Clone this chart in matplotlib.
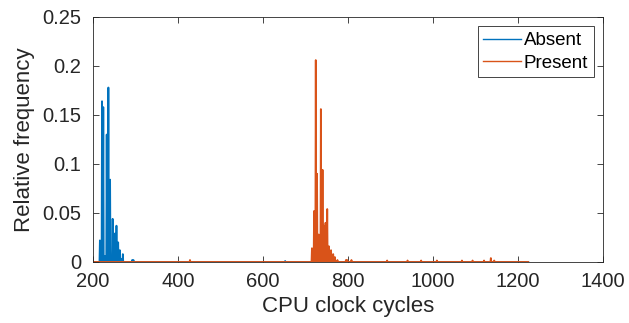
import numpy as np
import matplotlib
matplotlib.use('Agg')
import matplotlib.pyplot as plt

plt.rcParams['font.family'] = ['Liberation Sans', 'DejaVu Sans']

# cycle counts with a non zero frequency (everything else is zero)
absent_cycles = [216, 221, 224, 228, 232, 236, 240, 243, 246, 251, 255, 259, 263, 267, 270, 292, 295, 652]
absent_freq = [0.022, 0.164, 0.158, 0.006, 0.130, 0.178, 0.084, 0.003, 0.044, 0.029, 0.037, 0.020,
               0.012, 0.003, 0.008, 0.002, 0.002, 0.001]

present_cycles = [428, 715, 720, 724, 727, 731, 736, 740, 743, 747, 751, 755, 760, 765, 769, 775,
                  795, 798, 808, 892, 940, 972, 1009, 1068, 1093, 1120, 1136, 1144]
present_freq = [0.002, 0.014, 0.052, 0.206, 0.090, 0.028, 0.156, 0.094, 0.037, 0.040, 0.054, 0.016,
                0.012, 0.008, 0.005, 0.002, 0.002, 0.002, 0.002, 0.0015, 0.0015, 0.0015, 0.0015,
                0.0015, 0.0015, 0.0015, 0.004, 0.0015]

cycle_min, cycle_max = 200, 1224
labels = ['Absent', 'Present']
colors = ['#0072BD', '#D95319']

# full per-cycle histograms
cycles = np.arange(cycle_min, cycle_max + 1)
absent = np.zeros(len(cycles))
absent[np.array(absent_cycles) - cycle_min] = absent_freq
present = np.zeros(len(cycles))
present[np.array(present_cycles) - cycle_min] = present_freq

fig = plt.figure(figsize=(6.29, 3.23), dpi=100)
ax = fig.add_axes([0.148, 0.189, 0.8107, 0.7585])
ax.plot(cycles, absent, color=colors[0], lw=1.3, label=labels[0])
ax.plot(cycles, present, color=colors[1], lw=1.3, label=labels[1])

ax.set_xlim(200, 1400)
ax.set_ylim(0, 0.25)
ax.set_xticks([200, 400, 600, 800, 1000, 1200, 1400])
ax.set_yticks([0, 0.05, 0.1, 0.15, 0.2, 0.25])
ax.set_yticklabels(['0', '0.05', '0.1', '0.15', '0.2', '0.25'])
ax.tick_params(direction='in', top=True, right=True, length=4, width=0.6,
               labelsize=14.5, colors='#262626')
ax.tick_params(axis='x', pad=7)
ax.tick_params(axis='y', pad=8.5)
for s in ax.spines.values():
    s.set_color('#262626')
    s.set_linewidth(0.6)
ax.set_xlabel('CPU clock cycles', fontsize=16, color='#262626', labelpad=4)
ax.set_ylabel('Relative frequency', fontsize=16, color='#262626', labelpad=5)

leg = ax.legend(loc='upper right', fontsize=13.5, fancybox=False, framealpha=1,
                edgecolor='#262626', handlelength=2.0, handletextpad=0.15,
                borderpad=0.3, labelspacing=0.3, borderaxespad=0.5)
leg.get_frame().set_linewidth(0.6)
for line in leg.get_lines():
    line.set_linewidth(1.0)

plt.savefig('out.png')
